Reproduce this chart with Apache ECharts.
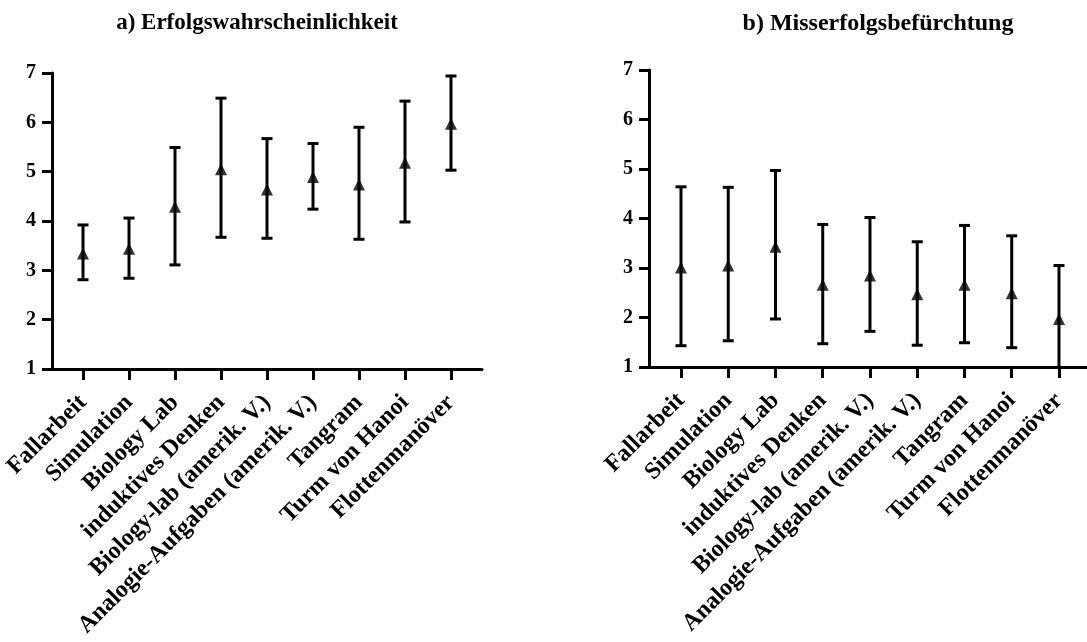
<!DOCTYPE html>
<html>
<head>
<meta charset="utf-8">
<script src="https://cdn.jsdelivr.net/npm/echarts@6/dist/echarts.min.js"></script>
<style>
html,body{margin:0;padding:0;background:#fff;}
#chart{width:1087px;height:642px;}
</style>
</head>
<body>
<div id="chart"></div>
<script>
var categories = ['Fallarbeit', 'Simulation', 'Biology Lab', 'induktives Denken', 'Biology-lab (amerik. V.)', 'Analogie-Aufgaben (amerik. V.)', 'Tangram', 'Turm von Hanoi', 'Flottenmanöver'];
var yTicks = [1, 2, 3, 4, 5, 6, 7];

var meanA = [3.34, 3.44, 4.29, 5.05, 4.64, 4.89, 4.74, 5.18, 5.97];
var lowA  = [2.81, 2.84, 3.11, 3.67, 3.65, 4.24, 3.63, 3.98, 5.03];
var highA = [3.92, 4.06, 5.49, 6.49, 5.67, 5.57, 5.90, 6.43, 6.94];

var meanB = [3.01, 3.05, 3.43, 2.66, 2.85, 2.47, 2.66, 2.49, 1.97];
var lowB  = [1.43, 1.53, 1.97, 1.47, 1.72, 1.44, 1.49, 1.39, 0.85];
var highB = [4.64, 4.63, 4.97, 3.88, 4.02, 3.53, 3.86, 3.65, 3.05];

var titles = ['a) Erfolgswahrscheinlichkeit', 'b) Misserfolgsbefürchtung'];

var FONT = "'Liberation Serif', 'Times New Roman', serif";
var positions = categories.map(function (c, i) { return i + 1; });

function pts(mean) { return mean.map(function (m, i) { return [i + 1, m]; }); }
function bars(low, high) { return low.map(function (l, i) { return [i + 1, l, high[i]]; }); }

function renderErr(params, api) {
  var x = api.value(0);
  var lo = api.coord([x, api.value(1)]);
  var hi = api.coord([x, api.value(2)]);
  var w = 5.5;
  var st = { stroke: '#000', lineWidth: 3 };
  return {
    type: 'group',
    children: [
      { type: 'line', shape: { x1: hi[0], y1: hi[1], x2: lo[0], y2: lo[1] }, style: st },
      { type: 'line', shape: { x1: hi[0] - w, y1: hi[1], x2: hi[0] + w, y2: hi[1] }, style: st },
      { type: 'line', shape: { x1: lo[0] - w, y1: lo[1], x2: lo[0] + w, y2: lo[1] }, style: st }
    ]
  };
}

function xAxis(idx, min, max) {
  return {
    type: 'value', gridIndex: idx, min: min, max: max,
    splitLine: { show: false },
    axisLine: { show: true, lineStyle: { color: '#000', width: 3 } },
    axisTick: { show: true, customValues: positions, length: 11, lineStyle: { color: '#000', width: 3 } },
    axisLabel: {
      customValues: positions, rotate: 45, margin: 30, padding: [25, 0, 0, 0],
      fontFamily: FONT, fontWeight: 'bold', fontSize: 24, color: '#000',
      formatter: function (v) { return categories[Math.round(v) - 1] || ''; }
    }
  };
}
function yAxis(idx) {
  return {
    type: 'value', gridIndex: idx, min: yTicks[0], max: yTicks[yTicks.length - 1], interval: 1,
    splitLine: { show: false },
    axisLine: { show: true, lineStyle: { color: '#000', width: 3 } },
    axisTick: { show: true, length: 10, lineStyle: { color: '#000', width: 3 } },
    axisLabel: { margin: 16, fontFamily: FONT, fontWeight: 'bold', fontSize: 20, color: '#000' }
  };
}

var chart = echarts.init(document.getElementById('chart'), null, { renderer: 'canvas' });
chart.setOption({
  backgroundColor: '#fff',
  animation: false,
  title: [
    { text: titles[0], left: 252, top: 7, textAlign: 'center',
      textStyle: { fontFamily: FONT, fontWeight: 'bold', fontSize: 23, color: '#000' } },
    { text: titles[1], left: 873, top: 7, textAlign: 'center',
      textStyle: { fontFamily: FONT, fontWeight: 'bold', fontSize: 24, color: '#000' } }
  ],
  grid: [
    { left: 52, top: 73, width: 430, height: 296 },
    { left: 649, top: 70, width: 438, height: 297 }
  ],
  xAxis: [xAxis(0, 0.326, 9.674), xAxis(1, 0.323, 9.593)],
  yAxis: [yAxis(0), yAxis(1)],
  series: [
    { type: 'custom', xAxisIndex: 0, yAxisIndex: 0, renderItem: renderErr, data: bars(lowA, highA), clip: true, z: 2 },
    { type: 'scatter', xAxisIndex: 0, yAxisIndex: 0, symbol: 'triangle', symbolSize: [12, 12],
      itemStyle: { color: '#000' }, data: pts(meanA), z: 3 },
    { type: 'custom', xAxisIndex: 1, yAxisIndex: 1, renderItem: renderErr, data: bars(lowB, highB), clip: true, z: 2 },
    { type: 'scatter', xAxisIndex: 1, yAxisIndex: 1, symbol: 'triangle', symbolSize: [12, 12],
      itemStyle: { color: '#000' }, data: pts(meanB), z: 3 }
  ]
});
</script>
</body>
</html>
